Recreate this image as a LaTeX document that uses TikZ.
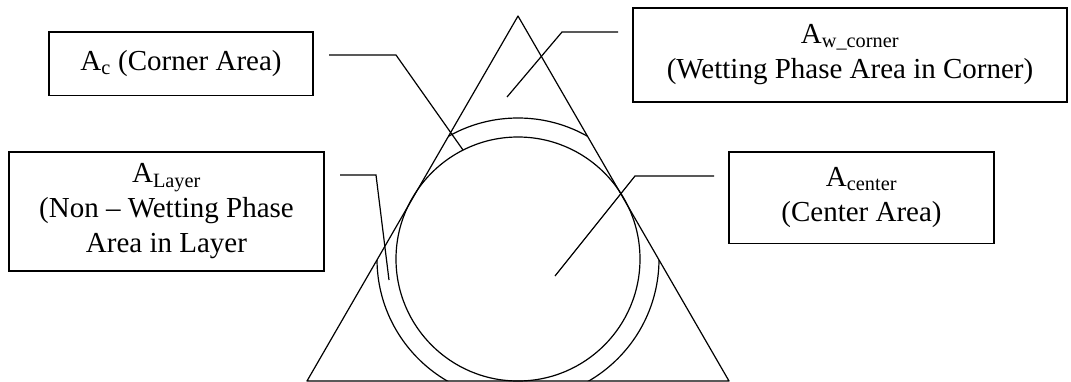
\documentclass[tikz,border=0pt]{standalone}
\usepackage{fontspec}
\setmainfont{Liberation Serif}
\begin{document}
\begin{tikzpicture}[x=1pt,y=-1pt,
  labelbox/.style={draw,line width=1.3pt,inner sep=0pt,align=center,
    font=\fontsize{29}{35}\selectfont},
  leader/.style={line width=1.2pt},
  shape line/.style={line width=1.2pt,line join=round}]
\useasboundingbox (0,0) rectangle (1071,381);
% triangle and circles
\coordinate (apex) at (518,16);
\coordinate (bl) at (307,381);
\coordinate (br) at (729,381);
\coordinate (ctr) at (518,259);
\draw[shape line] (apex) -- (bl) -- (br) -- cycle;
\draw[shape line] (ctr) circle (122pt);
\begin{scope}
  \clip (apex) -- (bl) -- (br) -- cycle;
  \draw[shape line] (ctr) circle (141pt);
\end{scope}
% boxes
\node[labelbox,minimum width=264pt,minimum height=63.5pt] (ac) at (181,63.75)
  {A\textsubscript{c} (Corner Area)};
\node[labelbox,minimum width=315pt,minimum height=119pt] (alayer) at (166.5,211.5)
  {A\textsubscript{Layer}\\(Non – Wetting Phase\\Area in Layer};
\node[labelbox,minimum width=434pt,minimum height=94pt] (awc) at (850,55)
  {A\textsubscript{w\_corner}\\(Wetting Phase Area in Corner)};
\node[labelbox,minimum width=265pt,minimum height=91.5pt] (acen) at (861.5,197.75)
  {A\textsubscript{center}\\(Center Area)};
% leaders
\coordinate (acS) at (329,55);  \coordinate (acB) at (396,55);  \coordinate (acE) at (463,150);
\coordinate (alS) at (340,175); \coordinate (alB) at (376,175); \coordinate (alE) at (389,280);
\coordinate (awS) at (618,32);  \coordinate (awB) at (562,32);  \coordinate (awE) at (507,97);
\coordinate (ceS) at (714,176); \coordinate (ceB) at (635,176); \coordinate (ceE) at (555,276);
\draw[leader] (acS) -- (acB) -- (acE);
\draw[leader] (alS) -- (alB) -- (alE);
\draw[leader] (awS) -- (awB) -- (awE);
\draw[leader] (ceS) -- (ceB) -- (ceE);
\end{tikzpicture}
\end{document}
